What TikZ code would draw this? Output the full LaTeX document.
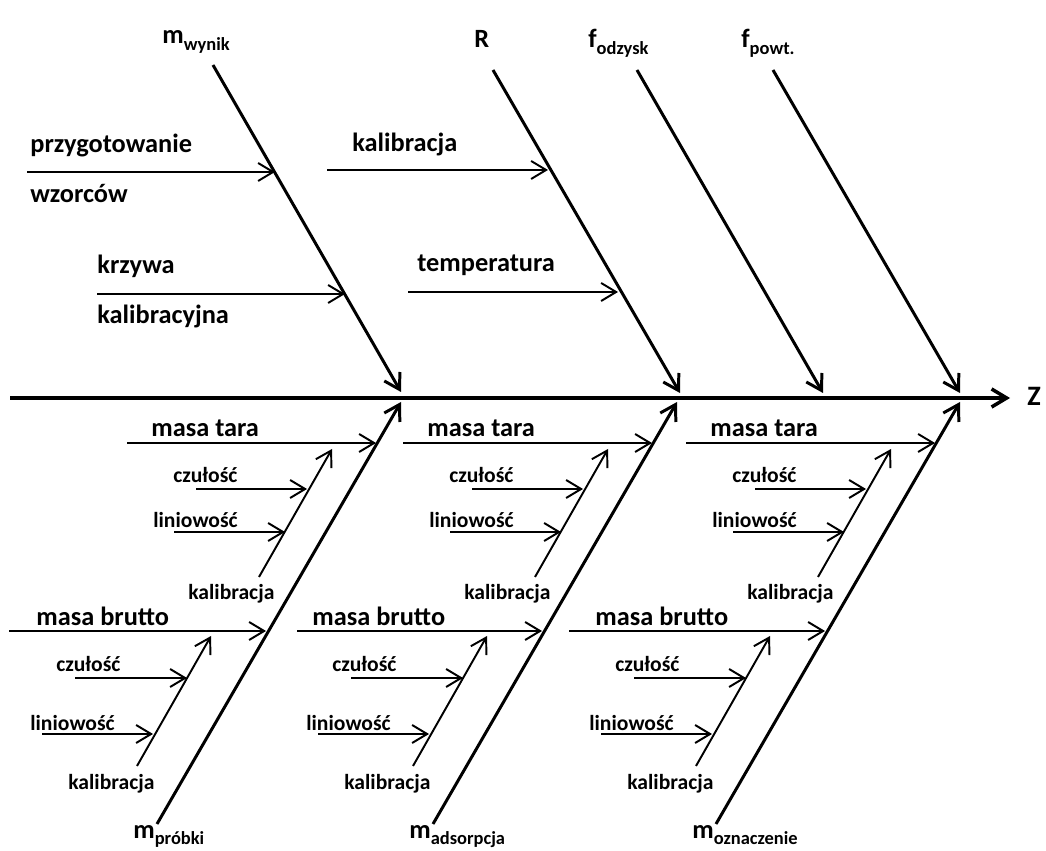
\documentclass[tikz,border=0pt]{standalone}
\usepackage{fontspec}
\setmainfont{Carlito}
\usetikzlibrary{arrows.meta}
\newcommand{\dolny}[1]{\raisebox{-3.5pt}{\fontsize{10.5}{12}\selectfont #1}}

\begin{document}
\begin{tikzpicture}[x=0.02cm, y=-0.02cm, >={Straight Barb[length=3mm, width=3.6mm]},
	every node/.style={font=\bfseries\fontsize{15}{17}\selectfont, inner sep=0pt, anchor=base west},
	small/.style={font=\bfseries\fontsize{12.3}{14}\selectfont},
	bone/.style={->, line width=1.7pt},
	twig/.style={->, line width=1.1pt}]
	\useasboundingbox (0,0) rectangle (1046,851);
	% main axis
	\coordinate (s0) at (10,398);
	\coordinate (s1) at (1010,398);
	\draw[->, line width=2pt] (s0) -- (s1);
	\node[font=\bfseries\fontsize{16}{18}\selectfont] (z) at (1027,406) {Z};
	% upper bones
	\coordinate (mw-a) at (213,65);  \coordinate (mw-b) at (401,392);
	\coordinate (r-a) at (493,70);   \coordinate (r-b) at (680,393);
	\coordinate (fo-a) at (637,70);  \coordinate (fo-b) at (823,393);
	\coordinate (fp-a) at (773,70);  \coordinate (fp-b) at (960,393);
	\foreach \k in {mw, r, fo, fp} {\draw[bone] (\k-a) -- (\k-b);}
	\node (mw) at (162,44) {m\dolny{wynik}};
	\node (r) at (474,48) {R};
	\node (fo) at (588,48) {f\dolny{odzysk}};
	\node (fp) at (741,48) {f\dolny{powt.}};
	% upper twigs
	\coordinate (pw-a) at (27,172);  \coordinate (pw-b) at (275,172);
	\coordinate (kk-a) at (97,294);  \coordinate (kk-b) at (345,294);
	\coordinate (ka-a) at (327,170); \coordinate (ka-b) at (548,170);
	\coordinate (te-a) at (408,292); \coordinate (te-b) at (618,292);
	\foreach \k in {pw, kk, ka, te} {\draw[twig] (\k-a) -- (\k-b);}
	\node (pw1) at (30,153) {przygotowanie};
	\node (pw2) at (30,203) {wzorców};
	\node (kk1) at (97,274) {krzywa};
	\node (kk2) at (97,324) {kalibracyjna};
	\node (ka) at (352,152) {kalibracja};
	\node (te) at (417,272) {temperatura};
	% lower bones: one group per mass
	\foreach \o/\bx/\g/\nazwa in {0/9/p/próbki, 276/297/a/adsorpcja, 559/569/o/oznaczenie} {
		\coordinate (\g-s) at ({157+\o},824);  \coordinate (\g-e) at ({401+\o},402);
		\coordinate (\g-ts) at ({259+\o},577); \coordinate (\g-te) at ({332+\o},449);
		\coordinate (\g-bs) at ({137+\o},766); \coordinate (\g-be) at ({211+\o},636);
		\coordinate (\g-t0) at ({127+\o},443); \coordinate (\g-t1) at ({376+\o},443);
		\coordinate (\g-c0) at ({196+\o},489); \coordinate (\g-c1) at ({307+\o},489);
		\coordinate (\g-l0) at ({174+\o},532); \coordinate (\g-l1) at ({285+\o},532);
		\coordinate (\g-b0) at (\bx,631);      \coordinate (\g-b1) at ({266+\o},631);
		\coordinate (\g-d0) at ({75+\o},678);  \coordinate (\g-d1) at ({187+\o},678);
		\coordinate (\g-n0) at ({42+\o},734);  \coordinate (\g-n1) at ({153+\o},734);
		\draw[bone] (\g-s) -- (\g-e);
		\draw[twig] (\g-ts) -- (\g-te);
		\draw[twig] (\g-bs) -- (\g-be);
		\foreach \k in {t, c, l, b, d, n} {\draw[twig] (\g-\k0) -- (\g-\k1);}
		\node (\g-tara) at ({151+\o},437) {masa tara};
		\node[small] (\g-tc) at ({173+\o},483) {czułość};
		\node[small] (\g-tl) at ({153+\o},528) {liniowość};
		\node[small] (\g-tk) at ({188+\o},600) {kalibracja};
		\node (\g-brutto) at ({36+\o},625) {masa brutto};
		\node[small] (\g-bc) at ({56+\o},671) {czułość};
		\node[small] (\g-bl) at ({30+\o},730) {liniowość};
		\node[small] (\g-bk) at ({68+\o},789) {kalibracja};
		\node (\g-m) at ({133+\o},838) {m\dolny{\nazwa}};
	}
\end{tikzpicture}
\end{document}
